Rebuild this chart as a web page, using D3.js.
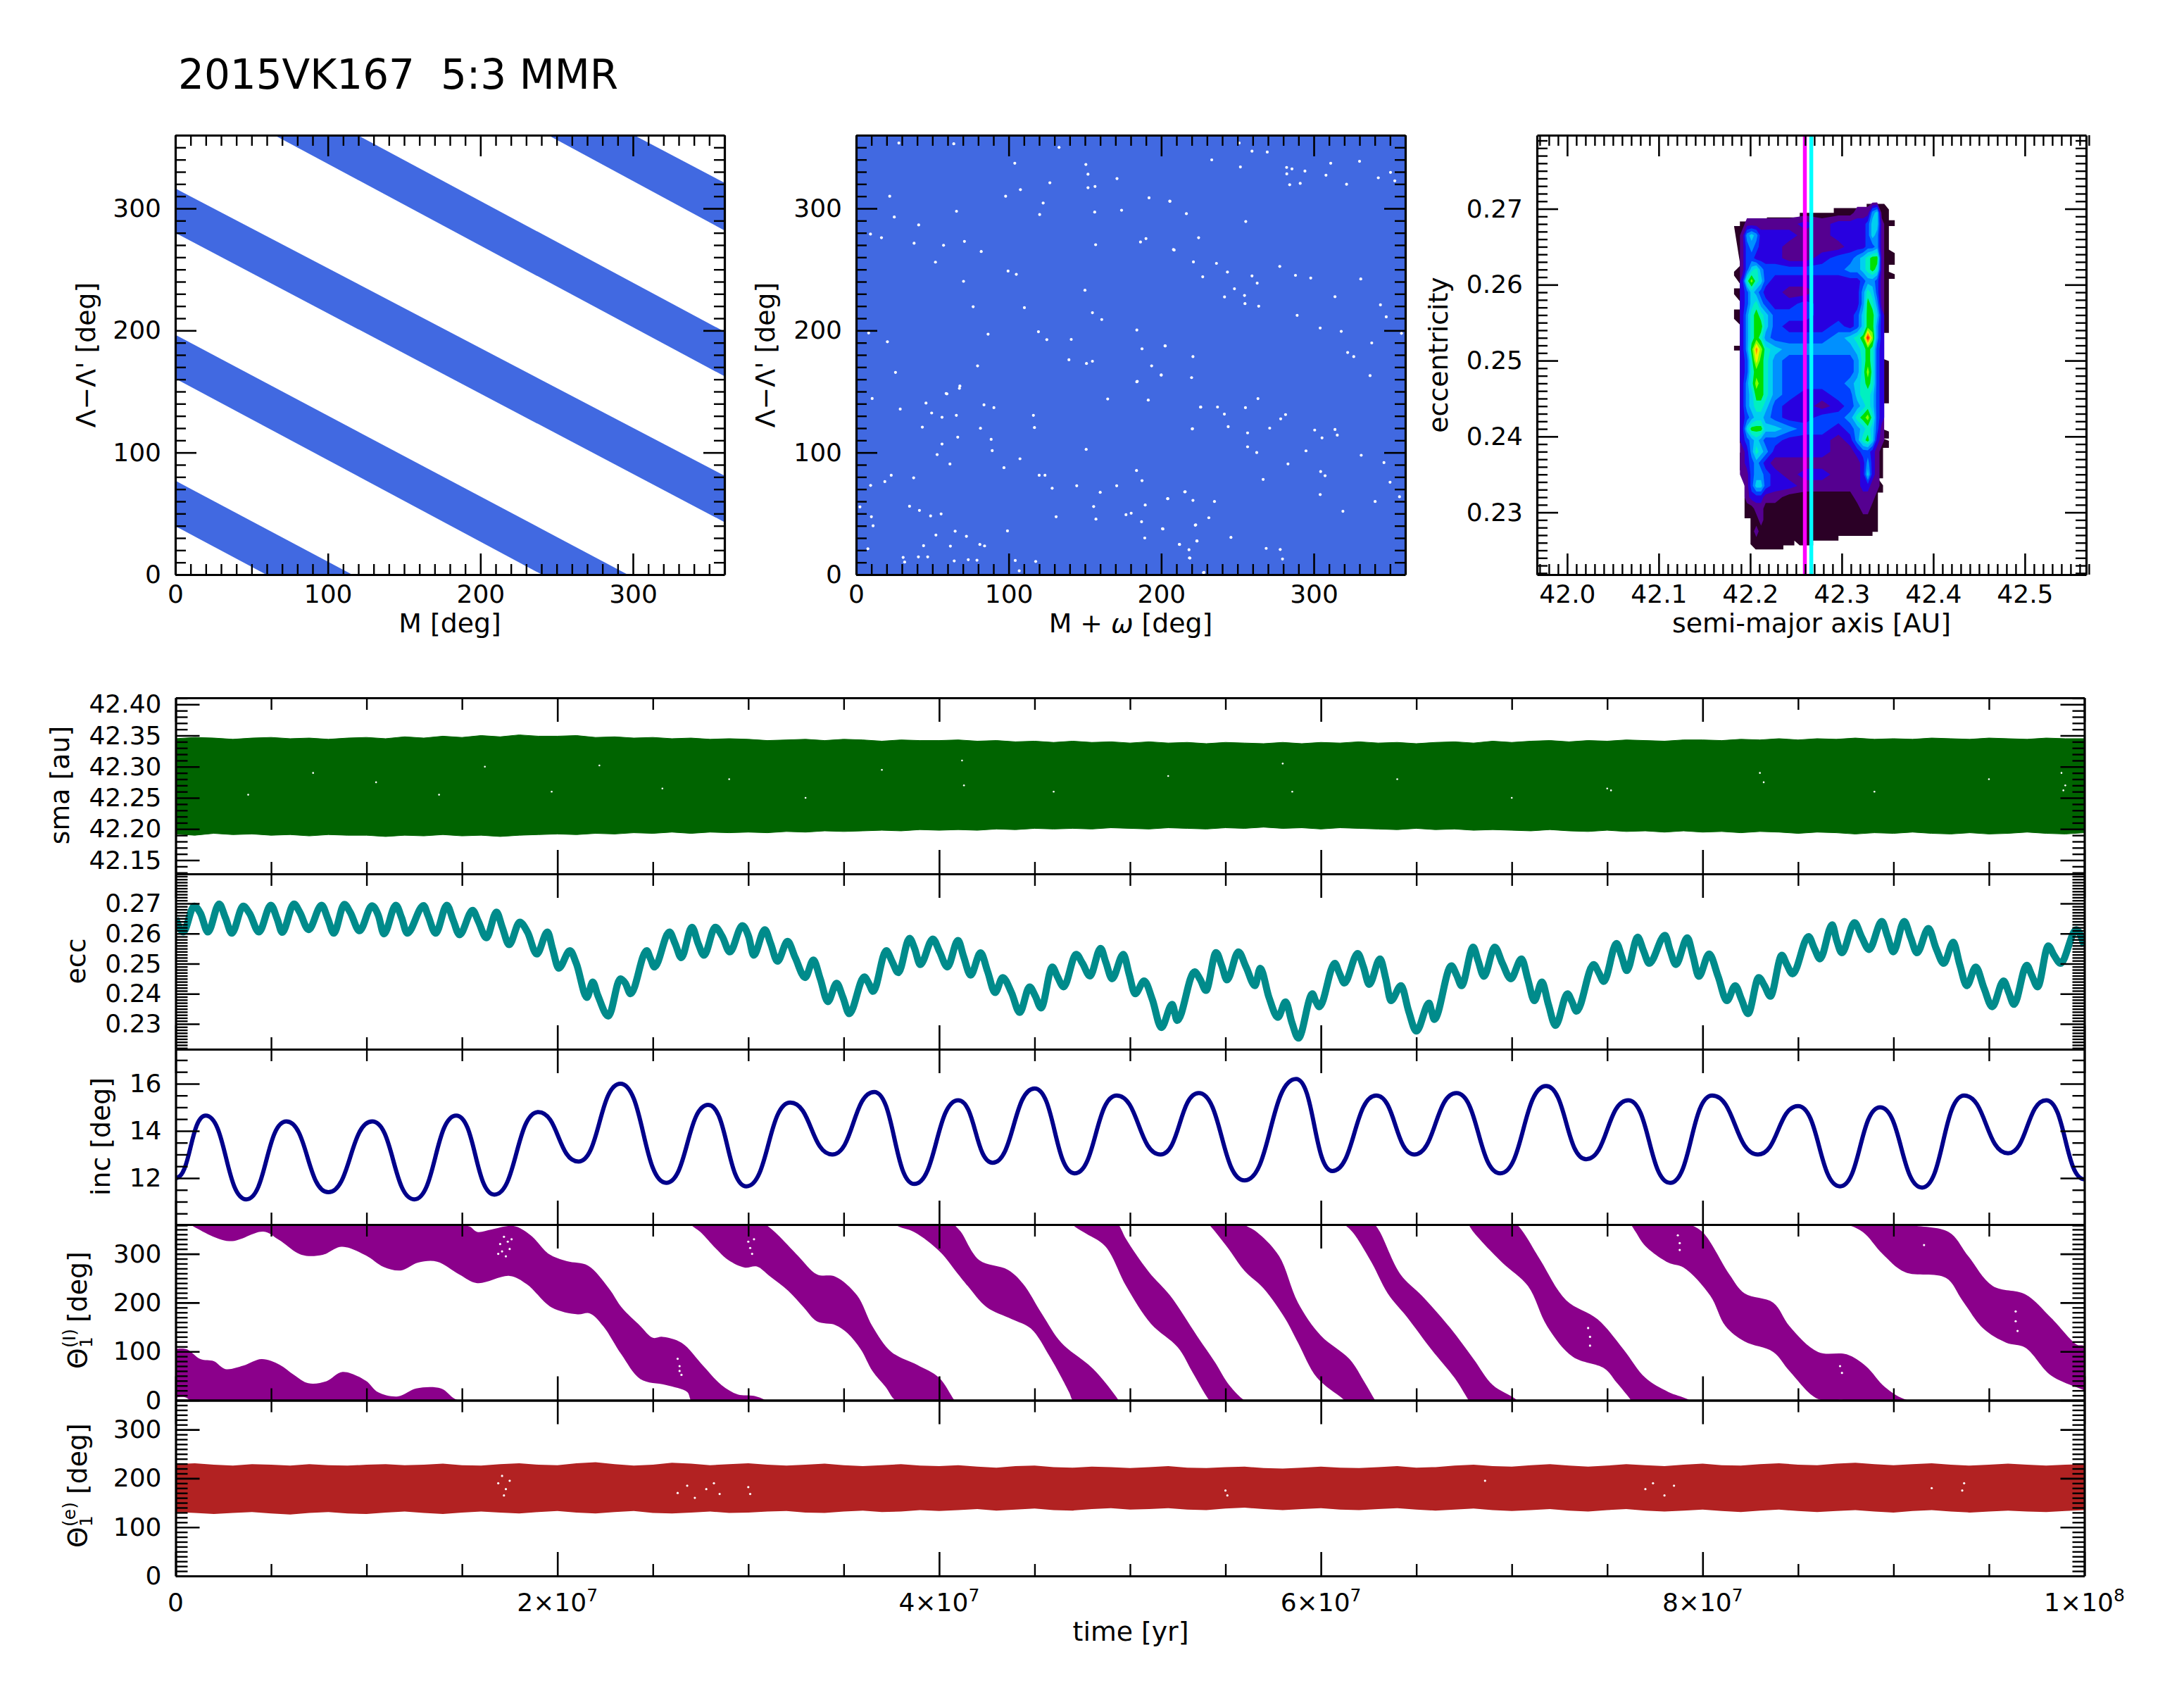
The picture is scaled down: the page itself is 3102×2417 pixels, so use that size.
<!DOCTYPE html>
<html>
<head>
<meta charset="utf-8">
<script src="https://cdn.jsdelivr.net/npm/d3@7"></script>
<style>
  body { margin: 0; background: #fff; }
  text { font-family: "DejaVu Sans", sans-serif; fill: #000; white-space: pre; }
</style>
</head>
<body>
<div id="chart"></div>
<script>
// 2015VK167 5:3 MMR panels

// top left panel: diagonal bands, lambda difference at M = 0 and M = 360
const bandM = [0, 360];
const bandLowStart = [39.7, 160.7, 280, 403.5, 525];
const bandHighStart = [77, 196.5, 316.4, 440, 558];
const bandLowEnd = [-200, -80, 43, 162.5, 282];
const bandHighEnd = [-162, -42, 81, 199, 321];

// top middle panel: small gaps in the dense scatter
const speckM = [28,64,133,104,150.6,152,171,152,156.6,127,107.7,98,22,192,205.6,122.6,174,65.8,120.3,25,156.4,41,9.4,16.6,38,71,57.3,82,157,186.4,190,208,52,99.6,105,70.4,150,76.7,110.3,154.9,161,8.2,86.5,119.5,184,20.5,125,141,202.5,187.4,139.5,151,154.9,193.7,200,25.8,79.6,184,68,59,
  10.5,28.9,45.8,59.5,67.7,65.7,49.5,56.3,43.4,81.5,66.6,56.3,83.8,90.3,116.2,116.9,88.5,89.2,107.4,150.8,191.5,164.9,184.3,225.8,220.5,53.1,37.7,18.8,9.5,61.5,123.8,120,128.5,144.6,160,170.8,183.8,187.4,204.3,220.8,215.4,189.5,2.5,10,35,41.5,55.7,48.8,131.1,155.7,176.9,180.3,187.1,157.2,11.1,200.8,222.3,52.3,72.3,64.9,189.2,223.4,44.2,61.8,81.1,84.2,7.7,212,218.2,30.8,46.9,40.8,64.3,117.7,104.3,31.8,79.2,73.5,218.8,227.7,106.9,99.2,96.9,23,
  251.1,269.5,259.5,233.1,251.9,282.2,285.7,282.3,294.2,291.1,284.2,311.1,308,330,350.3,353.1,342.3,321.5,205.7,216.5,255.4,224.5,208.5,221.1,227.2,236.2,243.4,259.5,277.7,288,298,330.8,262.9,248,254.6,254.9,263.9,241.5,313.9,343.7,347.5,289.1,304.2,318,357.5,202.6,220.8,338,326.2,322.2,200,219.9,336.9,225.9,241.4,236.9,255.2,263.4,281.5,278.3,220.3,243.9,271.1,313.9,315.4,300.6,305.4,256.6,294.9,331.1,346,262.6,256.6,283.1,304.5,307.4,266.8,350,304.2,234.9,204.2,215.7,319.1,231.2,222.6,201.1,245.7,223.4,268.8,278,279.5,218.5,228,211.9,340.2,356.2];
const speckL = [353.6,353,350,337,336,328,324.5,317,318,321,315.4,310,310,308.7,306,304.4,298.5,297.7,295,293,297,286.5,279,276,271.5,273,269.8,264.7,270.3,272.5,275.3,266.3,256,248.7,246,240.3,233,219.5,218.7,214.6,209,198,197,199,200.4,190.8,192.5,192.7,187.5,185,176,173,174.8,171,163.6,165.7,171,158,154.5,148.4,
  144.3,135.6,140.5,148.1,152.6,130.5,132.4,128.9,120.8,119.9,112.6,107,139.1,136.8,130.5,120.5,110.8,101.6,94.9,102.6,143,143.9,158.3,137.2,119.5,98.3,79.3,76.2,73.1,90.6,81.4,81.4,70.8,72.8,67.4,72.8,85.3,77,62.2,60.8,67.8,57,55.5,47.4,56,52.6,49.7,48.1,47.4,55.8,49.1,50.3,43.3,45.5,40,37.6,40.5,32.4,31.4,35.6,30,27.6,23.7,23.3,24.7,23.5,21.2,24.7,20.4,14.1,14.5,14.5,11.2,10.8,11.6,10.3,11.8,12.2,13.5,1.6,3.1,35.8,87.6,81.4,
  353.6,346.2,346.9,339.8,334,333.6,332.4,328.3,330.6,320.5,319.4,337,327.2,338.6,329.5,322.6,325.1,319.8,305.8,295.7,289.3,276,265.9,256.2,244,255,247.9,244.7,252.5,245.2,243,242.2,238.8,234.2,228.7,222,219.9,227.5,227.7,221,211.2,212.4,202,199.3,197.7,187.3,178.6,189.8,178.6,182,163.4,161.4,163,137.3,131.5,137.3,136.8,144.2,131.1,127.6,119.4,121.2,120,118.9,114.3,118.4,112,116.1,101.4,97.8,91.8,100,104.7,90.7,84.4,81,78,75.7,65.6,59.9,62.2,67.9,51.9,46.6,40.8,37.4,30.5,27.5,21.5,20.6,12.8,13.7,1.8,24.8,59.9,63.8];

// top right panel: density levels on rows of eccentricity by columns of semi-major axis
const densityA = [42.1913,42.1964,42.2015,42.2067,42.2118,42.2169,42.2272,42.2426,42.2605,42.2785,42.2964,42.3092,42.3169,42.3233,42.3285,42.3336,42.3387,42.3438];
const densityE = [0.271,0.2695,0.268,0.2665,0.265,0.2635,0.262,0.2605,0.259,0.2575,0.256,0.2545,0.253,0.2515,0.25,0.2485,0.247,0.2455,0.244,0.2425,0.241,0.2395,0.238,0.2365,0.235,0.2335,0.232,0.2305,0.229,0.2275,0.226];
const densityRows = [
  [1,1,1,1,1,1,1,1,1,1,1,1,1,1,1,1,1,1],
  [1,1,1,1,1,1,1,1,1,1,1,1,2,2,2,5,6,1],
  [1,2,2,2,2,2,2,2,3,2,3,3,3,3,4,6,6,2],
  [2,5,6,5,3,3,3,3,2,2,3,3,3,3,4,6,5,2],
  [2,4,5,4,3,3,3,2,2,2,2,3,3,3,4,4,5,2],
  [2,4,4,3,3,3,3,2,2,3,4,4,5,6,7,8,8,2],
  [2,4,6,7,5,4,4,4,4,4,4,5,5,6,7,8,7,2],
  [3,7,9,7,6,4,3,3,3,3,3,3,3,4,5,5,4,2],
  [3,4,6,5,4,3,3,2,2,3,3,3,3,5,7,6,4,2],
  [3,4,6,7,5,4,3,3,4,3,3,3,3,5,8,7,5,2],
  [3,5,7,8,7,6,4,4,4,3,3,3,4,6,8,8,6,3],
  [3,5,7,8,8,6,4,3,3,3,4,3,4,6,8,8,5,3],
  [3,5,7,8,7,5,4,4,4,4,5,6,7,8,12.5,9,5,3],
  [3,5,8,11,9,7,6,5,5,5,5,5,6,7,8,7,4,3],
  [3,4,7,10,8,7,5,4,4,4,4,4,5,7,8,7,4,3],
  [3,4,7,8,8,7,5,4,4,4,4,4,5,7,9,7,4,3],
  [3,5,7,9,8,7,5,4,4,4,4,5,6,7,8,7,4,3],
  [3,5,6,8,8,7,5,4,3,3,4,4,6,7,7,6,4,3],
  [3,5,6,7,7,6,4,3,3,2,3,4,5,6,7,6,4,3],
  [3,4,5,6,6,5,4,3,3,4,4,5,7,8,9,7,4,3],
  [3,6,8,8,8,6,6,5,4,4,3,4,5,6,7,6,4,2],
  [3,4,5,6,5,4,4,3,3,3,2,3,5,7,8,6,3,2],
  [2,3,5,7,6,5,3,3,3,3,2,2,3,4,4,3,2,1],
  [2,3,4,5,4,3,2,2,2,2,2,2,2,3,5,3,2,1],
  [2,2,4,5,5,4,3,2,3,3,2,2,2,3,6,3,2,1],
  [1,2,4,6,6,4,3,3,2,2,2,2,2,3,3,2,2,1],
  [1,2,3,3,3,2,2,1,1,1,1,1,2,2,2,2,1,1],
  [1,1,1,2,2,1,1,1,1,1,1,1,1,2,2,1,1,1],
  [1,1,1,1,2,1,1,1,1,1,1,1,1,1,1,1,1,1],
  [1,1,1,2,1,1,1,1,1,1,1,1,1,1,1,1,1,1],
  [1,1,1,1,1,1,1,1,1,1,1,1,1,1,1,1,1,1]
];
const densityLevels = [1.5,2.5,3.5,4.5,5.5,6.5,7.5,8.5,9.5,10.5,11.5];
const densityColors = ["#550090","#2800e0","#0040ff","#0090ff","#00d0f0","#00f0c0","#00e000","#80ff00","#f0f000","#ff9000","#ff2000"];

// blocky outer edge of the density map
const outlineA = [42.1823,42.1887,42.1887,42.2182,42.2182,42.2541,42.2541,42.2913,42.2913,42.3272,42.3272,42.3464,42.3515,42.3515,42.3579,42.3579,42.3515,42.3515,42.3579,42.3579,42.3515,42.3515,42.3579,42.3579,42.3515,42.3515,42.3451,42.3451,42.3515,42.3515,42.3451,42.3451,42.3515,42.3515,42.3451,42.3515,42.3515,42.3451,42.3451,42.3395,42.3451,42.3451,42.3395,42.3395,42.3336,42.3336,42.2964,42.2964,42.2687,42.2687,42.2541,42.2482,42.2482,42.2362,42.2362,42.2059,42.2003,42.2003,42.1938,42.1938,42.1938,42.1887,42.1887,42.1938,42.1938,42.1887,42.1887,42.1823,42.1823,42.1887,42.1887,42.1823,42.1823,42.1887,42.1887,42.1823,42.1823,42.1887,42.1887,42.1823,42.1823,42.1887,42.1887,42.1823];
const outlineE = [0.26772,0.26772,0.26834,0.26834,0.26886,0.26886,0.26948,0.26948,0.2701,0.2701,0.27066,0.27066,0.2699,0.26849,0.26849,0.26772,0.26772,0.26463,0.26416,0.26262,0.26262,0.26169,0.26138,0.26076,0.26076,0.25365,0.25365,0.25025,0.24994,0.24437,0.24437,0.24097,0.24066,0.23973,0.23973,0.23942,0.2385,0.2385,0.23448,0.23448,0.23355,0.23262,0.23262,0.22743,0.22743,0.2269,0.2269,0.22628,0.22628,0.22566,0.22566,0.22628,0.22566,0.22566,0.22511,0.22511,0.22582,0.22922,0.22922,0.232,0.2354,0.23556,0.23788,0.23788,0.23912,0.23912,0.25133,0.25133,0.25195,0.25195,0.25473,0.2555,0.25674,0.25674,0.25782,0.25875,0.25952,0.25952,0.26014,0.26122,0.26169,0.26246,0.26292,0.26772];
const resonanceA = [42.2597, 42.2667];

// sma envelope, one value per 1e6 yr
const smaUpper = [42.345,42.347,42.346,42.344,42.346,42.347,42.345,42.346,42.344,42.346,
  42.347,42.345,42.348,42.346,42.349,42.347,42.350,42.348,42.351,42.349,
  42.349,42.350,42.347,42.348,42.346,42.347,42.345,42.346,42.344,42.345,
  42.344,42.342,42.343,42.344,42.342,42.344,42.343,42.341,42.343,42.342,
  42.342,42.343,42.341,42.342,42.340,42.341,42.339,42.341,42.339,42.340,
  42.338,42.340,42.338,42.339,42.337,42.339,42.338,42.337,42.339,42.337,
  42.339,42.338,42.340,42.338,42.339,42.337,42.339,42.340,42.338,42.341,
  42.339,42.341,42.342,42.340,42.342,42.341,42.343,42.342,42.341,42.343,
  42.343,42.342,42.344,42.343,42.345,42.343,42.345,42.344,42.346,42.344,
  42.345,42.344,42.346,42.345,42.344,42.346,42.345,42.344,42.346,42.345,42.345];
const smaLower = [42.192,42.190,42.193,42.191,42.192,42.190,42.191,42.189,42.191,42.190,
  42.190,42.188,42.190,42.189,42.191,42.189,42.190,42.188,42.190,42.191,
  42.192,42.191,42.193,42.192,42.194,42.193,42.195,42.193,42.195,42.194,
  42.195,42.194,42.196,42.195,42.197,42.196,42.197,42.198,42.197,42.199,
  42.198,42.199,42.198,42.200,42.199,42.201,42.200,42.201,42.200,42.202,
  42.201,42.200,42.202,42.201,42.200,42.202,42.201,42.203,42.201,42.202,
  42.200,42.202,42.201,42.200,42.199,42.201,42.199,42.200,42.198,42.199,
  42.198,42.197,42.199,42.197,42.196,42.198,42.196,42.197,42.195,42.197,
  42.195,42.196,42.194,42.196,42.195,42.193,42.195,42.194,42.192,42.194,
  42.193,42.195,42.193,42.192,42.194,42.192,42.193,42.195,42.193,42.192,42.194];
const smaSpeckT = [0.38,0.72,1.05,1.38,1.62,1.97,2.22,2.55,2.9,3.3,3.7,4.12,4.13,4.6,5.2,5.8,5.85,6.4,7.0,7.5,7.52,8.3,8.32,8.9,9.5,9.88,9.89,9.9];
const smaSpeckA = [42.255,42.29,42.275,42.255,42.30,42.26,42.302,42.265,42.28,42.25,42.295,42.31,42.27,42.26,42.285,42.305,42.26,42.28,42.25,42.265,42.262,42.29,42.275,42.26,42.28,42.29,42.262,42.27];

// ecc line, peaks and troughs, time in units of 1e7 yr
const eccT = [0,0.04,0.097,0.169,0.228,0.294,0.354,0.436,0.499,0.558,0.62,0.696,0.765,0.828,0.884,0.963,1.029,1.091,1.154,1.213,1.299,1.362,1.421,1.487,1.556,1.628,1.681,1.747,1.803,1.892,1.948,2.007,2.066,2.155,2.185,2.267,2.33,2.383,2.468,2.508,2.587,2.649,2.705,2.768,2.827,2.903,2.969,3.028,3.087,3.153,3.206,3.298,3.341,3.417,3.463,3.529,3.608,3.654,3.723,3.786,3.845,3.901,3.967,4.043,4.099,4.165,4.217,4.293,4.333,4.422,4.474,4.534,4.593,4.652,4.718,4.79,4.846,4.906,4.965,5.027,5.074,5.164,5.221,5.247,5.338,5.398,5.451,5.508,5.568,5.655,5.682,5.775,5.815,5.882,5.956,5.992,6.073,6.123,6.193,6.253,6.31,6.367,6.42,6.5,6.567,6.594,6.684,6.737,6.798,6.854,6.911,6.995,7.051,7.118,7.158,7.229,7.292,7.339,7.429,7.482,7.549,7.603,7.66,7.72,7.803,7.86,7.92,7.98,8.034,8.127,8.171,8.238,8.294,8.355,8.415,8.471,8.555,8.615,8.679,8.729,8.796,8.872,8.939,8.999,9.056,9.123,9.183,9.263,9.313,9.384,9.431,9.517,9.577,9.631,9.698,9.755,9.811,9.875,9.958,10];
const eccV = [0.265,0.2605,0.2691,0.2605,0.2698,0.2601,0.2691,0.2605,0.2694,0.2604,0.2698,0.2613,0.2694,0.2601,0.2697,0.2609,0.2692,0.2599,0.2694,0.2601,0.2693,0.2601,0.2694,0.2596,0.2677,0.2586,0.2671,0.2563,0.2638,0.2532,0.2605,0.2485,0.2543,0.2388,0.2439,0.2326,0.245,0.24,0.2543,0.2489,0.2605,0.252,0.2621,0.2528,0.2621,0.2539,0.2626,0.2528,0.2613,0.2508,0.2574,0.2454,0.2512,0.2374,0.2435,0.2334,0.2456,0.2408,0.2543,0.247,0.2584,0.2497,0.2582,0.2489,0.2577,0.2462,0.2536,0.2404,0.2454,0.2338,0.2423,0.2353,0.2489,0.2423,0.2531,0.2459,0.2551,0.245,0.2531,0.24,0.2443,0.2288,0.2365,0.2311,0.2473,0.2411,0.2537,0.2446,0.2539,0.2427,0.2485,0.2322,0.2373,0.2253,0.24,0.2357,0.2501,0.2436,0.2534,0.2431,0.2516,0.2377,0.2427,0.2276,0.2369,0.2315,0.2493,0.2427,0.2555,0.2458,0.2555,0.245,0.2516,0.2377,0.2439,0.2295,0.24,0.2342,0.2497,0.2441,0.2567,0.2477,0.2588,0.2501,0.2594,0.2497,0.2586,0.2458,0.2532,0.2377,0.2427,0.2334,0.2454,0.2392,0.2528,0.2466,0.259,0.2516,0.2629,0.2536,0.2636,0.2547,0.264,0.2539,0.264,0.2536,0.2617,0.2501,0.2571,0.2427,0.2489,0.2357,0.2443,0.2365,0.2495,0.2423,0.2559,0.2501,0.2613,0.2559];
// shoulders on the falling legs of the same line
const eccShoulderT = [0.13,0.261,0.387,0.532,0.65,0.798,0.914,1.062,1.184,1.322,1.454,1.586,1.711,1.843,1.974,2.099,2.211,2.356,2.488,2.617,2.738,2.864,3.002,3.117,3.246,3.377,3.496,3.631,3.753,3.871,4.003,4.128,4.254,4.379,4.504,4.619,4.751,4.873,4.995,5.117,5.368,5.481,5.608,5.728,5.849,5.972,6.096,6.223,6.34,6.46,6.58,6.711,6.824,6.951,7.085,7.192,7.316,7.456,7.576,7.69,7.83,7.95,8.081,8.204,8.324,8.441,8.585,8.702,8.832,8.969,9.09,9.223,9.347,9.474,9.604,9.724,9.841];
const eccShoulderV = [0.2667,0.2652,0.2667,0.2648,0.2671,0.2648,0.2671,0.266,0.2652,0.266,0.2644,0.264,0.2621,0.2605,0.2551,0.2501,0.2396,0.2435,0.2516,0.2566,0.2566,0.259,0.259,0.2567,0.252,0.245,0.2388,0.2435,0.2508,0.2551,0.2539,0.2524,0.2474,0.2404,0.2392,0.2458,0.2501,0.2505,0.2466,0.2381,0.2447,0.2493,0.2489,0.2388,0.2303,0.2377,0.247,0.2489,0.245,0.2342,0.2342,0.2462,0.2509,0.2501,0.2446,0.2365,0.2373,0.247,0.2524,0.2543,0.2543,0.2524,0.2458,0.2381,0.2427,0.2497,0.2551,0.2578,0.259,0.259,0.2586,0.2551,0.2497,0.2419,0.2404,0.2462,0.2528];

// inc line, peaks and troughs
const incT = [0,0.157,0.37,0.58,0.8,1.03,1.25,1.47,1.67,1.9,2.11,2.33,2.57,2.79,2.99,3.22,3.44,3.66,3.87,4.1,4.28,4.5,4.71,4.93,5.16,5.36,5.6,5.87,6.06,6.29,6.49,6.71,6.94,7.18,7.39,7.61,7.83,8.05,8.29,8.5,8.72,8.93,9.15,9.37,9.6,9.8,10];
const incV = [12,14.65,11.1,14.4,11.4,14.4,11.1,14.65,11.3,14.8,12.7,16,11.8,15.1,11.65,15.2,13,15.65,11.75,15.3,12.65,15.8,12.2,15.5,13,15.6,11.9,16.2,12.3,15.5,13,15.6,12.2,15.9,12.8,15.3,11.8,15.5,13,15.05,11.65,15,11.6,15.5,13.05,15.3,11.95];

// theta I envelope, unwrapped degrees, drawn again every 360
const thetaLowT = [0,0.05,0.08,0.28,0.46,0.54,0.66,0.77,0.87,0.996,1.09,1.18,1.27,1.37,1.485,1.58,1.75,1.84,1.97,2.106,2.17,2.24,2.335,2.435,2.567,2.68,2.7,2.75,2.83,2.896,2.98,3.045,3.11,3.21,3.29,3.36,3.456,3.52,3.59,3.65,3.72,3.77,3.87,4,4.1,4.15,4.25,4.38,4.48,4.58,4.68,4.7,4.757,4.87,4.98,5.11,5.25,5.33,5.41,5.448,5.515,5.6,5.7,5.815,5.88,5.98,6.116,6.166,6.266,6.35,6.45,6.58,6.7,6.77,6.8,6.95,7.085,7.185,7.32,7.486,7.55,7.62,7.65,7.7,7.82,7.9,8.04,8.12,8.22,8.37,8.455,8.605,8.75,8.84,8.94,9.06,9.275,9.36,9.47,9.59,9.69,9.825,9.99,10];
const thetaLowV = [366,366,359,326,345.6,329,298,298,314.5,296.8,273,266,282,284,258,240,254.7,237.6,190,176,178,152,94,43.4,31.4,17,0,-15.5,-49,-73,-88,-86,-105,-136,-169.6,-198.5,-205.8,-222.6,-256,-299.7,-333,-360,-375.5,-414,-462,-486,-529.6,-553.7,-573,-631,-703,-720,-735.5,-764.4,-846.3,-923.4,-971.5,-1024.5,-1077.5,-1095.5,-1129,-1175,-1211,-1274,-1322,-1394,-1437.5,-1455.5,-1518,-1581,-1629,-1696.4,-1754,-1797.5,-1815.5,-1878,-1926,-2008,-2071,-2095,-2124,-2157.5,-2175.5,-2204,-2238,-2248,-2305.6,-2368,-2399.5,-2421,-2460,-2517.5,-2520,-2535.5,-2579,-2617.4,-2629.4,-2675,-2733,-2762,-2772,-2829,-2858,-2860];
const thetaUpT = [0,0.055,0.13,0.2,0.26,0.355,0.45,0.544,0.62,0.695,0.79,0.874,0.996,1.06,1.165,1.26,1.39,1.466,1.54,1.58,1.655,1.77,1.86,1.955,2.05,2.16,2.27,2.337,2.435,2.5,2.55,2.65,2.765,2.86,2.945,3.03,3.09,3.14,3.26,3.36,3.456,3.57,3.65,3.75,3.885,4,4.08,4.115,4.21,4.36,4.44,4.54,4.64,4.805,4.94,4.98,5.1,5.21,5.35,5.45,5.51,5.59,5.665,5.78,5.88,6,6.15,6.23,6.28,6.31,6.417,6.53,6.68,6.8,6.9,7.02,7.06,7.15,7.285,7.45,7.586,7.7,7.82,7.92,8,8.14,8.22,8.37,8.455,8.605,8.755,8.855,8.955,9.056,9.29,9.39,9.52,9.69,9.825,9.96,10];
const thetaUpV = [465,465,444.4,440,424,431,444.4,433,412,395,399,418,400,376.5,367.8,384,384,362,356,345,350,357,338,299.7,285,276,229,190,152,128,130,118,70,31,12,9,0,-15.5,-63.7,-102,-106.8,-145,-208,-261,-287.6,-314,-360,-375.5,-433,-452.6,-481.5,-544,-602,-655,-720,-750,-817.6,-865.5,-947.5,-1005,-1043.8,-1077.5,-1095.5,-1144,-1240,-1307.5,-1355.6,-1404,-1437.5,-1455.5,-1542,-1586,-1653,-1715.6,-1768.6,-1797.5,-1815.5,-1873,-1955,-1994,-2056,-2114,-2143,-2157.5,-2175.5,-2262,-2301,-2320,-2368,-2421,-2426,-2450,-2493,-2517.5,-2535.5,-2584,-2646,-2663,-2711,-2766,-2770];
const thetaSpeckT = [1.69,1.7,1.72,1.73,1.74,1.75,1.76,1.71,3.0,3.01,3.02,3.03,2.63,2.64,2.65,2.64,7.87,7.88,7.88,7.4,7.41,7.41,9.64,9.64,9.65,9.16,8.72,8.73];
const thetaSpeckV = [300,320,335,295,325,310,330,305,325,312,300,330,85,70,52,60,338,322,308,148,130,112,182,162,142,318,70,56];

// theta e envelope, one value per 1e6 yr
const thetaEUpper = [229,231,228,226,229,228,226,229,227,226,228,229,227,228,230,227,226,229,231,228,
  227,231,233,229,226,228,232,230,227,229,231,228,226,228,230,227,225,227,229,226,
  225,227,224,222,225,226,223,222,224,223,221,223,225,222,221,223,224,221,220,222,
  224,222,221,223,225,222,223,226,228,225,224,227,229,226,224,226,229,227,225,228,
  230,227,226,229,231,228,227,230,232,229,227,229,231,228,226,228,230,228,226,228,229];
const thetaELower = [131,129,127,129,131,128,126,129,131,128,127,130,132,129,127,130,132,130,128,131,
  133,130,128,131,133,129,128,130,132,129,130,132,133,130,129,132,134,131,132,135,
  133,135,137,134,136,138,135,134,137,139,136,137,139,136,135,138,140,137,135,137,
  139,136,135,137,139,136,134,136,138,135,133,135,137,134,132,135,137,134,132,134,
  136,133,131,134,136,133,131,133,135,132,130,133,135,132,130,132,134,132,131,133,135];
const thetaESpeckT = [1.69,1.71,1.73,1.75,1.72,2.63,2.68,2.72,2.78,2.82,2.85,3.0,3.01,5.5,5.51,6.86,7.7,7.74,7.8,7.85,9.36,9.37,9.2];
const thetaESpeckV = [190,205,178,195,165,170,185,160,178,190,168,182,168,175,165,195,178,190,165,185,175,190,180];

// tick values and labels
const degMajor = [0,100,200,300];
const degMinor = d3.range(0,361,10);
const smaAxisMajor = [42.0,42.1,42.2,42.3,42.4,42.5];
const smaAxisMinor = d3.range(41.97,42.57,0.01);
const eccMajor = [0.23,0.24,0.25,0.26,0.27];
const eccMinor = d3.range(0.222,0.2797,0.001);
const sma2Major = [42.15,42.20,42.25,42.30,42.35,42.40];
const sma2Minor = d3.range(42.13,42.411,0.01);
const incMajor = [12,14,16];
const incMinor = d3.range(10,17.5,0.5);
const timeMajor = [0,2,4,6,8,10];
const timeMinor = d3.range(0,10.01,0.5);
const timeLabels = [["0",""],["2×10","7"],["4×10","7"],["6×10","7"],["8×10","7"],["1×10","8"]];

const blue = "#4169e1";
const fontSize = 36;
const labelSize = 37.8;
const svg = d3.select("#chart").append("svg").attr("width", 3102).attr("height", 2417);

svg.append("text").attr("x", 253).attr("y", 126).attr("font-size", 58).text("2015VK167  5:3 MMR");

let clipCount = 0;
function panel(left, top, width, height, xDomain, yDomain) {
  const g = svg.append("g").attr("transform", `translate(${left},${top})`);
  const id = "clip" + (clipCount++);
  g.append("clipPath").attr("id", id).append("rect").attr("width", width).attr("height", height);
  const x = d3.scaleLinear().domain(xDomain).range([0, width]);
  const y = d3.scaleLinear().domain(yDomain).range([height, 0]);
  const data = g.append("g").attr("clip-path", `url(#${id})`);
  return {g, data, x, y, width, height};
}

// ticks point inward on all four sides, labels only on the left and the bottom
function frame(p, xMajor, xMinor, yMajor, yMinor, big, small, xFormat, yFormat) {
  const sides = [
    [d3.axisBottom, p.x, xMajor, xMinor, `translate(0,${p.height})`, xFormat, 14],
    [d3.axisTop, p.x, xMajor, xMinor, "translate(0,0)", null, 0],
    [d3.axisLeft, p.y, yMajor, yMinor, "translate(0,0)", yFormat, 20],
    [d3.axisRight, p.y, yMajor, yMinor, `translate(${p.width},0)`, null, 0]
  ];
  sides.forEach(([axis, scale, major, minor, pos, fmt, pad]) => {
    const minorOnly = minor.filter(v => !major.some(m => Math.abs(m - v) < 1e-6));
    p.g.append("g").attr("transform", pos)
      .call(axis(scale).tickValues(minorOnly).tickSize(-small).tickSizeOuter(0).tickFormat(""))
      .call(s => s.selectAll("line").attr("stroke-width", 2.4))
      .call(s => s.select(".domain").remove());
    const a = p.g.append("g").attr("transform", pos)
      .call(axis(scale).tickValues(major).tickSize(-big).tickSizeOuter(0).tickPadding(pad).tickFormat(fmt || ""));
    a.selectAll("line").attr("stroke-width", 2.6);
    a.select(".domain").attr("stroke-width", 3.2);
    a.selectAll("text").attr("font-size", fontSize).attr("font-family", '"DejaVu Sans", sans-serif');
  });
}

function yLabel(x, y, text) {
  return svg.append("text").attr("transform", `translate(${x},${y}) rotate(-90)`)
    .attr("text-anchor", "middle").attr("font-size", labelSize).text(text);
}
function xLabel(x, y) {
  return svg.append("text").attr("x", x).attr("y", y)
    .attr("text-anchor", "middle").attr("font-size", labelSize);
}

const plain = d3.format("d");

// panel 1: bands
const p1 = panel(249, 192, 780, 624, [0,360], [0,360]);
bandLowStart.forEach((low, i) => {
  const band = d3.area().x(d => p1.x(d.m)).y0(d => p1.y(d.low)).y1(d => p1.y(d.high));
  p1.data.append("path")
    .datum(bandM.map((m, j) => ({m, low: j ? bandLowEnd[i] : low, high: j ? bandHighEnd[i] : bandHighStart[i]})))
    .attr("fill", blue).attr("d", band);
});
frame(p1, degMajor, degMinor, degMajor, degMinor, 30, 15, plain, plain);
yLabel(135, 504, "Λ−Λ' [deg]");
xLabel(639, 898).text("M [deg]");

// panel 2: full square with small gaps
const p2 = panel(1216, 192, 780, 624, [0,360], [0,360]);
p2.data.append("rect").attr("x", p2.x(0)).attr("y", p2.y(360))
  .attr("width", p2.x(360) - p2.x(0)).attr("height", p2.y(0) - p2.y(360)).attr("fill", blue);
p2.data.selectAll("circle").data(speckM).join("circle")
  .attr("cx", d => p2.x(d)).attr("cy", (d, i) => p2.y(speckL[i])).attr("r", 2.1).attr("fill", "#fff");
frame(p2, degMajor, degMinor, degMajor, degMinor, 30, 15, plain, plain);
yLabel(1100, 504, "Λ−Λ' [deg]");
const l2 = xLabel(1606, 898);
l2.append("tspan").text("M + ");
l2.append("tspan").attr("font-style", "italic").text("ω");
l2.append("tspan").text(" [deg]");

// panel 3: density contours
const p3 = panel(2183, 192, 780, 624, [41.967,42.567], [0.2218,0.2797]);
const outlinePoints = outlineA.map((a, i) => [p3.x(a), p3.y(outlineE[i])]);
p3.data.append("path").attr("d", d3.line()(outlinePoints) + "Z").attr("fill", "#2b0026");

const columnScale = d3.scaleLinear().domain(densityA.map((d, i) => i + 0.5)).range(densityA);
const rowScale = d3.scaleLinear().domain(densityE.map((d, i) => i + 0.5)).range(densityE);
const contourPath = d3.geoPath(d3.geoTransform({
  point(cx, cy) { this.stream.point(p3.x(columnScale(cx)), p3.y(rowScale(cy))); }
}));
const contours = d3.contours()
  .size([densityA.length, densityE.length])
  .smooth(true)
  .thresholds(densityLevels)(densityRows.flat());
p3.data.selectAll(".level").data(contours).join("path")
  .attr("class", "level").attr("d", contourPath)
  .attr("fill", (d, i) => densityColors[i]);
["#ff00ff", "#00ffff"].forEach((c, i) => {
  p3.data.append("line").attr("x1", p3.x(resonanceA[i])).attr("x2", p3.x(resonanceA[i]))
    .attr("y1", 0).attr("y2", p3.height).attr("stroke", c).attr("stroke-width", 5.5);
});
frame(p3, smaAxisMajor, smaAxisMinor, eccMajor, eccMinor, 30, 15, d3.format(".1f"), d3.format(".2f"));
yLabel(2056, 504, "eccentricity");
xLabel(2573, 898).text("semi-major axis [AU]");

// lower panels share the time axis
const lowerLeft = 249.5, lowerWidth = 2711;
const timeDomain = [0,10];

const p4 = panel(lowerLeft, 991, lowerWidth, 250, timeDomain, [42.128,42.4105]);
const smaTimes = smaUpper.map((d, i) => i * 0.1);
p4.data.append("path").datum(smaTimes)
  .attr("fill", "#006400").attr("stroke", "#006400").attr("stroke-width", 1)
  .attr("d", d3.area().x(d => p4.x(d)).y0((d, i) => p4.y(smaLower[i])).y1((d, i) => p4.y(smaUpper[i])));
p4.data.selectAll("circle").data(smaSpeckT).join("circle")
  .attr("cx", d => p4.x(d)).attr("cy", (d, i) => p4.y(smaSpeckA[i])).attr("r", 1.3).attr("fill", "#fff");
frame(p4, timeMajor, timeMinor, sma2Major, sma2Minor, 34, 17, null, d3.format(".2f"));
yLabel(98, 1115, "sma [au]");

const p5 = panel(lowerLeft, 1241, lowerWidth, 249, timeDomain, [0.2216,0.2798]);
const eccPoints = d3.sort(
  eccT.map((t, i) => [t, eccV[i]]).concat(eccShoulderT.map((t, i) => [t, eccShoulderV[i]])),
  d => d[0]);
p5.data.append("path").datum(eccPoints)
  .attr("fill", "none").attr("stroke", "#008b8b").attr("stroke-width", 10).attr("stroke-linejoin", "round")
  .attr("d", d3.line().curve(d3.curveMonotoneX).x(d => p5.x(d[0])).y(d => p5.y(d[1])));
frame(p5, timeMajor, timeMinor, eccMajor, eccMinor, 34, 17, null, d3.format(".2f"));
yLabel(121, 1365, "ecc");

const p6 = panel(lowerLeft, 1490, lowerWidth, 249, timeDomain, [10.03,17.46]);
p6.data.append("path").datum(incT)
  .attr("fill", "none").attr("stroke", "#00008b").attr("stroke-width", 6)
  .attr("d", d3.line().curve(d3.curveBumpX).x(d => p6.x(d)).y((d, i) => p6.y(incV[i])));
frame(p6, timeMajor, timeMinor, incMajor, incMinor, 34, 17, null, plain);
yLabel(156, 1614, "inc [deg]");

const p7 = panel(lowerLeft, 1739, lowerWidth, 249.5, timeDomain, [0,360]);
const thetaEdge = d3.line().curve(d3.curveCatmullRom.alpha(0.5));
d3.range(-1, 9).forEach(k => {
  const upper = thetaUpT.map((t, i) => [p7.x(t), p7.y(thetaUpV[i] + 360 * k)]);
  const lower = thetaLowT.map((t, i) => [p7.x(t), p7.y(thetaLowV[i] + 360 * k)]).reverse();
  p7.data.append("path").attr("d", thetaEdge(upper.concat(lower)) + "Z").attr("fill", "#8b008b");
});
p7.data.selectAll("circle").data(thetaSpeckT).join("circle")
  .attr("cx", d => p7.x(d)).attr("cy", (d, i) => p7.y(thetaSpeckV[i])).attr("r", 1.6).attr("fill", "#fff");
frame(p7, timeMajor, timeMinor, degMajor, degMinor, 34, 17, null, plain);

const p8 = panel(lowerLeft, 1988.5, lowerWidth, 249.5, timeDomain, [0,360]);
const thetaETimes = thetaEUpper.map((d, i) => i * 0.1);
p8.data.append("path").datum(thetaETimes)
  .attr("fill", "#b22222")
  .attr("d", d3.area().x(d => p8.x(d)).y0((d, i) => p8.y(thetaELower[i])).y1((d, i) => p8.y(thetaEUpper[i])));
p8.data.selectAll("circle").data(thetaESpeckT).join("circle")
  .attr("cx", d => p8.x(d)).attr("cy", (d, i) => p8.y(thetaESpeckV[i])).attr("r", 1.6).attr("fill", "#fff");
frame(p8, timeMajor, timeMinor, degMajor, degMinor, 34, 17, d => "", plain);

// time labels with a raised exponent
timeLabels.forEach(([base, exp], i) => {
  const t = svg.append("text").attr("x", lowerLeft + p8.x(timeMajor[i])).attr("y", 2288)
    .attr("text-anchor", "middle").attr("font-size", fontSize).text(base);
  if (exp) t.append("tspan").attr("dy", -14).attr("font-size", 25).text(exp);
});
xLabel(1606, 2330).text("time [yr]");

// theta labels: symbol with a stacked sub and superscript
function thetaLabel(y, kind, degOffset) {
  const g = svg.append("g").attr("transform", `translate(123,${y}) rotate(-90)`);
  g.append("text").attr("font-size", labelSize).text("Θ");
  g.append("text").attr("x", 30).attr("y", -16).attr("font-size", 25).text(kind);
  g.append("text").attr("x", 30).attr("y", 8).attr("font-size", 25).text("1");
  g.append("text").attr("x", degOffset).attr("font-size", labelSize).text("[deg]");
}
thetaLabel(1944, "(I)", 66);
thetaLabel(2198, "(e)", 76);
</script>
</body>
</html>
